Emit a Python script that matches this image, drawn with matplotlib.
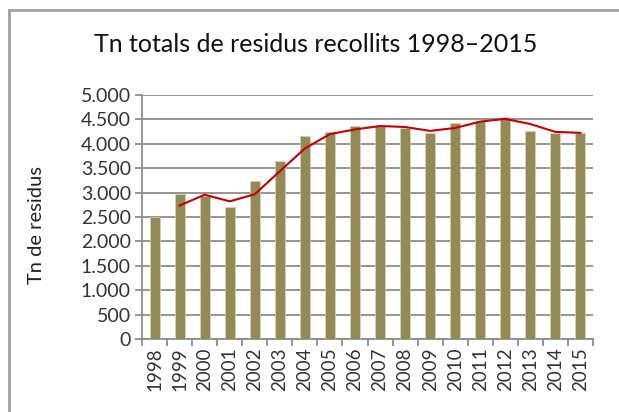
import matplotlib
matplotlib.use('Agg')
import matplotlib.pyplot as plt
from matplotlib.lines import Line2D
import numpy as np

# Tonnes of collected waste per year
years = [str(y) for y in range(1998, 2016)]
tonnes = [2490, 2975, 2935, 2705, 3230, 3640, 4160, 4230, 4350,
          4365, 4310, 4210, 4425, 4470, 4545, 4255, 4225, 4215]
# 2-period moving average trendline (starts at 1999)
trend_years = years[1:]
trend = [2735, 2955, 2820, 2965, 3435, 3900, 4195, 4290, 4360,
         4340, 4260, 4320, 4450, 4505, 4400, 4240, 4220]

plt.rcParams['font.family'] = ['Lato', 'DejaVu Sans']

fig = plt.figure(figsize=(6.19, 4.12), dpi=100)
ax = fig.add_axes([142 / 619, 1 - 339.3 / 412, (593 - 142) / 619, (339.3 - 94.7) / 412])

x = np.arange(len(years))
ax.bar(x, tonnes, width=0.4, color='#948a54', edgecolor='#d8d3bd', linewidth=0.5, zorder=3)
tx = np.arange(1, len(years))
ax.plot(tx, trend, color='#c00000', linewidth=1.5, zorder=4)

ax.set_xlim(-0.5, len(years) - 0.5)
ax.set_ylim(0, 5000)
yt = np.arange(0, 5001, 500)
ax.set_yticks(yt)
ax.set_yticklabels([f'{v:,}'.replace(',', '.') for v in yt], fontsize=14, color='#333333')
ax.yaxis.grid(True, color='#8c8c8c', linewidth=1.3, zorder=0)
ax.set_axisbelow(True)

ax.set_xticks(x)
ax.set_xticklabels(years, rotation=90, fontsize=13.5, color='#333333')
ax.tick_params(axis='x', length=0, pad=6)
ax.set_xticks(np.arange(-0.5, len(years)), minor=True)
ax.tick_params(axis='x', which='minor', length=5, color='#8c8c8c', width=1.3)
ax.tick_params(axis='y', length=5, color='#8c8c8c', width=1.3, pad=3)

for s in ['top', 'right']:
    ax.spines[s].set_visible(False)
for s in ['left', 'bottom']:
    ax.spines[s].set_color('#8c8c8c')
    ax.spines[s].set_linewidth(1.3)

ax.set_ylabel('Tn de residus', fontsize=14.5, color='#222222', va='center')
ax.yaxis.set_label_coords((36 - 142) / 451, (339.3 - 225) / 244.7)

fig.text(316 / 619, 1 - 45 / 412, 'Tn totals de residus recollits 1998–2015',
         ha='center', va='center', fontsize=18, color='#111111')

# chart border (only top and left edges are within the image)
fig.add_artist(Line2D([9 / 619, 9 / 619], [0, 1 - 10 / 412], color='#a0a0a0', linewidth=2,
                      transform=fig.transFigure))
fig.add_artist(Line2D([9 / 619, 1], [1 - 10 / 412, 1 - 10 / 412], color='#a0a0a0', linewidth=2,
                      transform=fig.transFigure))

fig.savefig('out.png', dpi=100)
